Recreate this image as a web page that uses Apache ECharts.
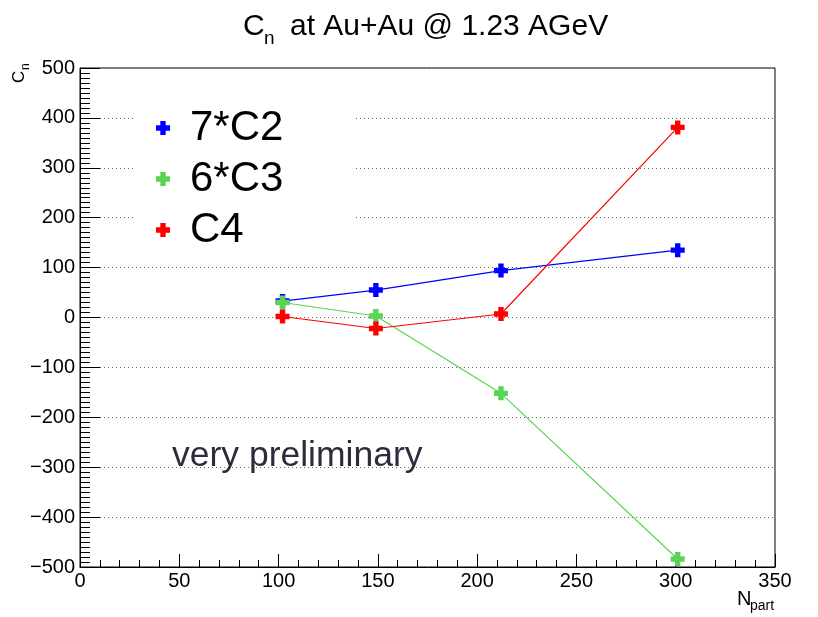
<!DOCTYPE html>
<html>
<head>
<meta charset="utf-8">
<script src="https://cdn.jsdelivr.net/npm/echarts@6/dist/echarts.min.js"></script>
<style>
  html, body { margin: 0; padding: 0; background: #fff; }
  #chart { width: 818px; height: 617px; }
</style>
</head>
<body>
<div id="chart"></div>
<script>
// Number of participants (x) and scaled cumulants per centrality class
const nPart = [102, 149, 212, 301];
const c2x7 = [33, 55, 94, 135];
const c3x6 = [30, 3, -152, -484];
const c4 = [2, -22, 7, 381];

const seriesNames = ['7*C2', '6*C3', 'C4'];
const seriesColors = ['#0000ff', '#59d454', '#ff0000'];
const seriesValues = [c2x7, c3x6, c4];

const FONT = '"Liberation Sans", Arial, Helvetica, sans-serif';
// plus-shaped marker
const PLUS = 'path://M4,0 H9 V4 H13 V9 H9 V13 H4 V9 H0 V4 H4 Z';

const chart = echarts.init(document.getElementById('chart'), null, { renderer: 'canvas' });

const series = seriesNames.map((name, i) => ({
  name: name,
  type: 'line',
  data: nPart.map((x, j) => [x, seriesValues[i][j]]),
  symbol: PLUS,
  symbolSize: 14,
  showAllSymbol: true,
  lineStyle: { color: seriesColors[i], width: 1.2 },
  itemStyle: { color: seriesColors[i] },
  emphasis: { disabled: true },
  animation: false,
  z: 3 + i
}));

const option = {
  animation: false,
  textStyle: { fontFamily: FONT },
  grid: {
    left: 80, right: 43, top: 68, bottom: 50,
    show: true, borderColor: '#000', borderWidth: 1,
    backgroundColor: 'transparent'
  },
  xAxis: {
    type: 'value',
    min: 0, max: 350, interval: 50,
    axisLine: { onZero: false, lineStyle: { color: '#000', width: 1 } },
    axisTick: { inside: true, length: 13, lineStyle: { color: '#000' } },
    minorTick: { show: true, splitNumber: 5, length: 7, lineStyle: { color: '#000' } },
    splitLine: { show: false },
    axisLabel: { color: '#000', fontSize: 20, fontFamily: FONT, margin: 4 }
  },
  yAxis: {
    type: 'value',
    min: -500, max: 500, interval: 100,
    axisLine: { show: true, onZero: false, lineStyle: { color: '#000', width: 1 } },
    axisTick: { inside: true, length: 20, lineStyle: { color: '#000' } },
    minorTick: { show: true, splitNumber: 10, length: 10, lineStyle: { color: '#000' } },
    splitLine: { show: true, lineStyle: { color: '#666', width: 1, type: [1, 3] } },
    axisLabel: {
      color: '#000', fontSize: 20, fontFamily: FONT, margin: 5,
      formatter: v => (v < 0 ? '\u2212' + Math.abs(v) : String(v))
    }
  },
  legend: {
    orient: 'vertical',
    left: 135, top: 97,
    padding: [10, 70, 7, 21],
    backgroundColor: '#fff',
    itemGap: 9,
    itemWidth: 44, itemHeight: 14,
    selectedMode: false,
    data: seriesNames.map(n => ({ name: n, icon: PLUS })),
    textStyle: { color: '#000', fontSize: 42, lineHeight: 42, fontFamily: FONT }
  },
  graphic: [
    // title
    { type: 'text', x: 243, y: 27, silent: true,
      style: { text: 'C', font: '30px ' + FONT, fill: '#000', align: 'left', verticalAlign: 'middle' } },
    { type: 'text', x: 264, y: 39, silent: true,
      style: { text: 'n', font: '19px ' + FONT, fill: '#000', align: 'left', verticalAlign: 'middle' } },
    { type: 'text', x: 290, y: 27, silent: true,
      style: { text: 'at Au+Au @ 1.23 AGeV', font: '30px ' + FONT, fill: '#000', align: 'left', verticalAlign: 'middle' } },
    // y axis name
    { type: 'text', x: 19, y: 83, rotation: Math.PI / 2, silent: true,
      style: { text: 'C', font: '17px ' + FONT, fill: '#000', align: 'left', verticalAlign: 'middle' } },
    { type: 'text', x: 26, y: 70, rotation: Math.PI / 2, silent: true,
      style: { text: 'n', font: '12px ' + FONT, fill: '#000', align: 'left', verticalAlign: 'middle' } },
    // x axis name
    { type: 'text', x: 737, y: 599, silent: true,
      style: { text: 'N', font: '20px ' + FONT, fill: '#000', align: 'left', verticalAlign: 'middle' } },
    { type: 'text', x: 750, y: 606, silent: true,
      style: { text: 'part', font: '14px ' + FONT, fill: '#000', align: 'left', verticalAlign: 'middle' } },
    // annotation
    { type: 'text', x: 172, y: 456, silent: true, z: 10,
      style: { text: 'very preliminary', font: '35.5px ' + FONT, fill: '#2c2c3c', align: 'left', verticalAlign: 'middle' } }
  ],
  series: series
};

chart.setOption(option);
</script>
</body>
</html>
